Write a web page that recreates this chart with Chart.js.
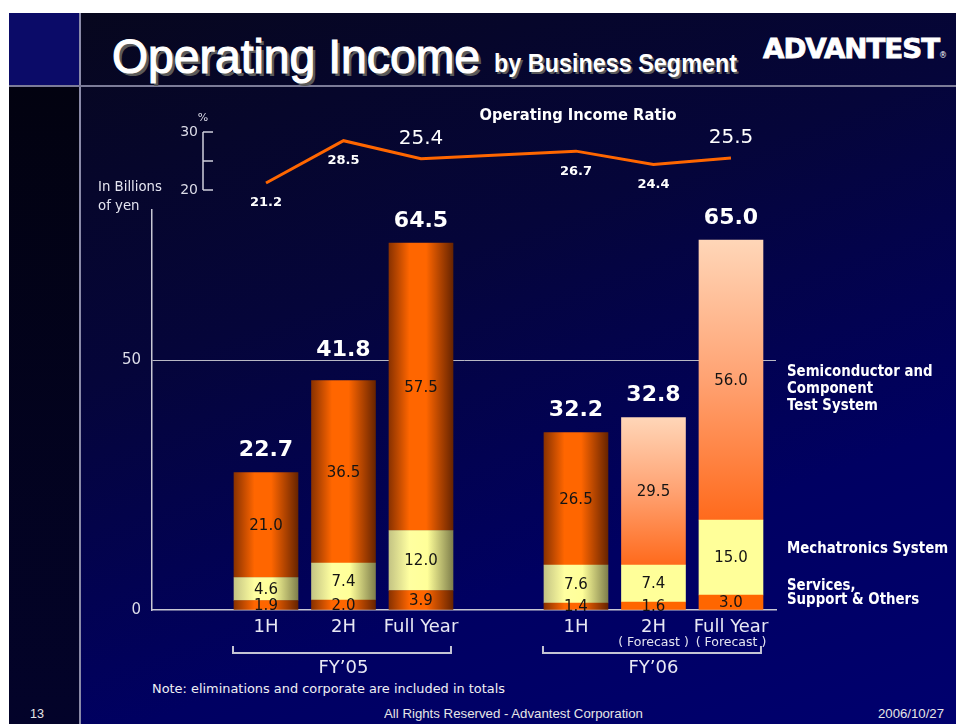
<!DOCTYPE html>
<html><head><meta charset="utf-8">
<script src="https://cdn.jsdelivr.net/npm/chart.js@4.4.1/dist/chart.umd.min.js"></script>
<style>
html,body{margin:0;padding:0;background:#fff;width:956px;height:724px;overflow:hidden;position:relative}
#slide{position:absolute;left:9px;top:13px;width:947px;height:711px;background:linear-gradient(160deg,#07071c 0%,#05053a 38%,#000062 72%,#00006e 100%)}
#leftcol{position:absolute;left:9px;top:86px;width:70px;height:638px;background:linear-gradient(180deg,#020210 0%,#03032a 100%)}
#corner{position:absolute;left:9px;top:13px;width:70px;height:72px;background:#0b0b68}
#vline{position:absolute;left:79px;top:13px;width:2px;height:711px;background:#8a8aa8}
#hline{position:absolute;left:9px;top:85px;width:947px;height:2px;background:#7c7c98}
.t{position:absolute;white-space:nowrap;transform-origin:left center;color:#fff}
#title{left:112px;top:33px;font:48px/48px "Liberation Sans Narrow","Liberation Sans",sans-serif;-webkit-text-stroke:1.2px #fff;text-shadow:3px 3px 0 #5a5a5a}
#sub{left:494px;top:51px;font:bold 25px/25px "Liberation Sans Narrow","Liberation Sans",sans-serif;text-shadow:2px 2px 0 #5a5a5a}
#logo{left:763px;top:35px;font:bold 27px/27px "DejaVu Sans",sans-serif;letter-spacing:-1px;-webkit-text-stroke:0.8px #fff}
#reg{left:939px;top:52px;font:8px/8px "DejaVu Sans",sans-serif}
#note{left:152px;top:682px;font:13px/13px "DejaVu Sans",sans-serif;color:#f0f0f4}
.f{top:707px;font:13px/13px "Liberation Sans Narrow","Liberation Sans",sans-serif;color:#e6e6e6}
canvas{position:absolute;left:0;top:0}
</style></head>
<body>
<div id="slide"></div><div id="leftcol"></div><div id="corner"></div><div id="vline"></div><div id="hline"></div>
<div class="t" id="title" data-w="368">Operating Income</div>
<div class="t" id="sub" data-w="243">by Business Segment</div>
<div class="t" id="logo" data-w="176">ADVANTEST</div>
<div class="t" id="reg">®</div>
<div class="t" id="note" data-w="353">Note: eliminations and corporate are included in totals</div>
<div class="t f" style="left:30px" data-w="14">13</div>
<div class="t f" style="left:384px" data-w="259">All Rights Reserved - Advantest Corporation</div>
<div class="t f" style="left:878px" data-w="66">2006/10/27</div>
<canvas id="c" width="956" height="724"></canvas>
<script>
const categories = ['1H','2H','Full Year','1H','2H','Full Year'];
const periods = ['FY’05','FY’05','FY’05','FY’06','FY’06','FY’06'];
const forecast = [false,false,false,false,true,true];
const semiconductor = [21.0,36.5,57.5,26.5,29.5,56.0];
const mechatronics = [4.6,7.4,12.0,7.6,7.4,15.0];
const services = [1.9,2.0,3.9,1.4,1.6,3.0];
const totals = [22.7,41.8,64.5,32.2,32.8,65.0];
const ratio = [21.2,28.5,25.4,26.7,24.4,25.5];
const yTicks = [0,50];
const ratioTicks = [20,25,30];
const ratioLabels = [20,30];
const seriesNames = [['Services,','Support & Others'],['Mechatronics System'],['Semiconductor and','Component','Test System']];

document.querySelectorAll('[data-w]').forEach(el=>{
  const w = el.getBoundingClientRect().width;
  el.style.transform = 'scaleX(' + (+el.dataset.w / w) + ')';
});

const groups = [...new Set(periods)];
const slots = categories.map((c,i)=>i + groups.indexOf(periods[i]));
const pts = arr => arr.map((v,i)=>({x:slots[i], y:v}));

const FONT = '"DejaVu Sans", sans-serif';
const orangeStops = [[0,'#8a3200'],[0.32,'#ff6600'],[0.58,'#ff6600'],[1,'#682400']];
const yellowStops = [[0,'#c4c484'],[0.32,'#ffffa0'],[0.6,'#ffff99'],[1,'#80804c']];

function txt(ctx, s, x, y, font, color, align, squeeze){
  ctx.font = font; ctx.fillStyle = color; ctx.textAlign = align || 'center'; ctx.textBaseline = 'middle';
  const w = ctx.measureText(s).width;
  ctx.fillText(s, x, y, w * (squeeze || 1));
}

const deco = {
  id:'deco',
  beforeDatasetDraw(chart, args){
    const meta = args.meta; if (meta.type !== 'bar') return;
    const ctx = chart.ctx; const ds = args.index;
    meta.data.forEach((el,i)=>{
      const l = el.x - el.width/2, r = el.x + el.width/2;
      const t = Math.min(el.y, el.base), b = Math.max(el.y, el.base);
      let g;
      if (forecast[i]) {
        if (ds === 2) { g = ctx.createLinearGradient(0,t,0,b); g.addColorStop(0,'#ffd6b8'); g.addColorStop(0.5,'#ffa272'); g.addColorStop(1,'#ff6a1c'); }
        else g = ds === 1 ? '#ffff99' : '#ff6600';
      } else {
        g = ctx.createLinearGradient(l,0,r,0);
        (ds === 1 ? yellowStops : orangeStops).forEach(s=>g.addColorStop(s[0], s[1]));
      }
      el.options.backgroundColor = g;
    });
  },
  afterDraw(chart){
    const ctx = chart.ctx, ca = chart.chartArea, xs = chart.scales.x, y = chart.scales.y, y2 = chart.scales.y2;
    ctx.save();
    for (let d = 0; d < 3; d++) {
      const meta = chart.getDatasetMeta(d);
      meta.data.forEach((el,i)=>{
        const v = chart.data.datasets[d].data[i].y;
        txt(ctx, v.toFixed(1), el.x, (el.y + el.base)/2 + 1, '15px ' + FONT, '#141414');
      });
    }
    const top = chart.getDatasetMeta(2);
    const y50 = y.getPixelForValue(50);
    top.data.forEach((el,i)=>{
      let ty = el.y - 22;
      if (Math.abs(ty - y50) < 14) ty = y50 - 10;
      txt(ctx, totals[i].toFixed(1), el.x, ty, 'bold 22px ' + FONT, '#ffffff');
    });
    const lm = chart.getDatasetMeta(3);
    lm.data.forEach((p,i)=>{
      if (categories[i] === 'Full Year') txt(ctx, ratio[i].toFixed(1), p.x, p.y - 20, '20px ' + FONT, '#ffffff');
      else txt(ctx, ratio[i].toFixed(1), p.x, p.y + 20, 'bold 13px ' + FONT, '#ffffff');
    });
    const ax = ca.left + 51;
    ctx.strokeStyle = '#d0d0dc'; ctx.lineWidth = 1.5;
    ctx.beginPath();
    ctx.moveTo(ax, y2.getPixelForValue(ratioTicks[0])); ctx.lineTo(ax, y2.getPixelForValue(ratioTicks[ratioTicks.length-1]));
    ratioTicks.forEach(v=>{ const py = y2.getPixelForValue(v); ctx.moveTo(ax, py); ctx.lineTo(ax + 10, py); });
    ctx.stroke();
    ratioLabels.forEach(v=>txt(ctx, String(v), ax - 5, y2.getPixelForValue(v), '14px ' + FONT, '#dcdce8', 'right'));
    txt(ctx, '%', ax, y2.getPixelForValue(ratioTicks[ratioTicks.length-1]) - 14, '11px ' + FONT, '#dcdce8');
    txt(ctx, 'Operating Income Ratio', ca.left + 426, 116, 'bold 16px ' + FONT, '#ffffff', 'center', 0.92);
    txt(ctx, 'In Billions', 98, 187, '14px ' + FONT, '#e4e4f0', 'left', 0.95);
    txt(ctx, 'of yen', 98, 206, '14px ' + FONT, '#e4e4f0', 'left', 0.95);
    slots.forEach((s,i)=>{ if (forecast[i]) txt(ctx, '( Forecast )', xs.getPixelForValue(s), 643, '12.5px ' + FONT, '#e4e4f0'); });
    groups.forEach(g=>{
      const idx = periods.map((p,i)=>p===g?i:-1).filter(i=>i>=0);
      const xa = xs.getPixelForValue(slots[idx[0]]), xb = xs.getPixelForValue(slots[idx[idx.length-1]]);
      const x0 = xa - 33, x1 = xb + 30;
      ctx.strokeStyle = '#c4c4d4'; ctx.lineWidth = 2;
      ctx.beginPath(); ctx.moveTo(x0, 646); ctx.lineTo(x0, 653); ctx.lineTo(x1, 653); ctx.lineTo(x1, 646); ctx.stroke();
      txt(ctx, g, (xa + xb) / 2, 668, '18px ' + FONT, '#e8e8f4');
    });
    const last = slots.length - 1;
    for (let d = 0; d < 3; d++) {
      const el = chart.getDatasetMeta(d).data[last];
      const lines = seriesNames[d];
      let lh = 17;
      let y0 = (el.y + el.base)/2 - 8;
      if (y0 + (lines.length-1)*lh > ca.bottom - 10) { lh = 14; y0 = ca.bottom - 10 - (lines.length-1)*lh; }
      lines.forEach((s,k)=>txt(ctx, s, ca.right + 11, y0 + k*lh, 'bold 15px ' + FONT, '#ffffff', 'left', 0.89));
    }
    ctx.restore();
  }
};

const barBase = { type:'bar', barThickness:64, borderWidth:0, backgroundColor:()=> '#ff6600', xAxisID:'x', yAxisID:'y' };

new Chart(document.getElementById('c'), {
  data: {
    datasets: [
      Object.assign({}, barBase, { label: seriesNames[0].join(' '), data: pts(services) }),
      Object.assign({}, barBase, { label: seriesNames[1].join(' '), data: pts(mechatronics) }),
      Object.assign({}, barBase, { label: seriesNames[2].join(' '), data: pts(semiconductor) }),
      { type:'line', label:'Operating Income Ratio', data: pts(ratio), yAxisID:'y2', xAxisID:'x',
        borderColor:'#ff6600', borderWidth:3, pointRadius:0, tension:0, clip:false, fill:false }
    ]
  },
  options: {
    responsive:false, animation:false, devicePixelRatio:1,
    layout:{ padding:{ top:210, right:180, left:0, bottom:0 } },
    plugins:{ legend:{display:false}, tooltip:{enabled:false} },
    scales:{
      x:{ type:'linear', min:-1.471, max:6.581, stacked:true, offset:false,
          afterBuildTicks:s=>{ s.ticks = slots.map(v=>({value:v})); },
          afterFit:s=>{ s.height = 114; },
          grid:{ display:false, drawTicks:false, offset:false },
          border:{ display:true, color:'#c8c8d4', width:1.5 },
          ticks:{ padding:7, color:'#e8e8f4', font:{ family:'DejaVu Sans', size:18 }, maxRotation:0, autoSkip:false,
                  callback:v=>{ const i = slots.indexOf(v); return i >= 0 ? categories[i] : ''; } } },
      y:{ type:'linear', min:0, max:80, stacked:true,
          afterBuildTicks:s=>{ s.ticks = yTicks.map(v=>({value:v})); },
          afterFit:s=>{ s.width = 152; },
          grid:{ color:c=> c.tick && c.tick.value === 0 ? 'rgba(0,0,0,0)' : '#b8b8c4', lineWidth:1, drawTicks:false },
          border:{ display:true, color:'#c8c8d4', width:1.5 },
          ticks:{ padding:11, color:'#dcdce8', font:{ family:'DejaVu Sans', size:15 } } },
      y2:{ type:'linear', display:false, min:20 - 420/5.8, max:20 - 20/5.8 }
    }
  },
  plugins:[deco]
});
</script>
</body></html>
